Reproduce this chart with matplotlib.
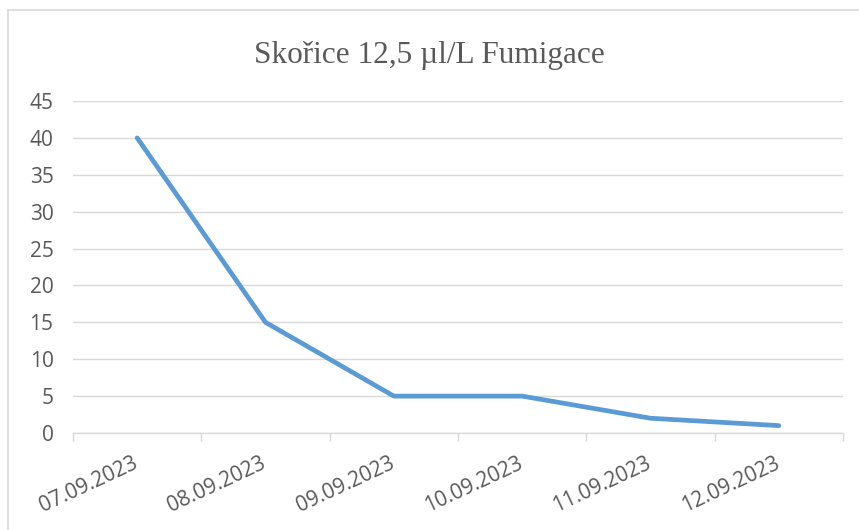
import matplotlib
matplotlib.use("Agg")
import matplotlib.pyplot as plt
from matplotlib.lines import Line2D
from matplotlib.transforms import ScaledTranslation

categories = ["07.09.2023", "08.09.2023", "09.09.2023", "10.09.2023", "11.09.2023", "12.09.2023"]
values = [40, 15, 5, 5, 2, 1]
yticks = [0, 5, 10, 15, 20, 25, 30, 35, 40, 45]
title = "Skořice 12,5 µl/L Fumigace"

W, H = 859, 530
fig = plt.figure(figsize=(W / 100, H / 100), dpi=100)
# chart frame: only top and left edges are visible in the crop
fig.add_artist(Line2D([8 / W, 8 / W], [0, 1 - 10 / H], transform=fig.transFigure,
                      color="#D9D9D9", linewidth=1.2))
fig.add_artist(Line2D([8 / W, 1], [1 - 10 / H, 1 - 10 / H], transform=fig.transFigure,
                      color="#D9D9D9", linewidth=1.2))
ax = fig.add_axes([73 / W, 97 / H, 770 / W, 332 / H])

x = list(range(len(categories)))
ax.plot(x, values, color="#5B9BD5", linewidth=3.4, solid_capstyle="round",
        solid_joinstyle="round", zorder=3)

ax.set_xlim(-0.5, len(categories) - 0.5)
ax.set_ylim(0, 45)
ax.set_yticks(yticks)
ax.grid(axis="y", color="#D9D9D9", linewidth=1)
ax.set_axisbelow(True)
for s in ["top", "right", "left"]:
    ax.spines[s].set_visible(False)
ax.spines["bottom"].set_color("#D9D9D9")
ax.spines["bottom"].set_linewidth(1)

ax.set_xticks([i - 0.5 for i in range(len(categories) + 1)])
ax.set_xticklabels([])
ax.tick_params(axis="x", which="major", length=6, color="#D9D9D9", width=1)
ax.tick_params(axis="y", length=0, pad=14, labelsize=15, labelcolor="#595959")
for lab in ax.get_yticklabels():
    lab.set_family("Open Sans")

off = ax.get_xaxis_transform() + ScaledTranslation(-5 / 100, -20 / 100, fig.dpi_scale_trans)
for xi, lab in zip(x, categories):
    ax.text(xi, 0, lab, transform=off, rotation=25, ha="right", va="top",
            rotation_mode="anchor", fontsize=15, color="#595959", family="Open Sans")

fig.text(0.5, 1 - 56 / H, title, ha="center", va="center", fontsize=22.5,
         family="Liberation Serif", color="#595959")

fig.savefig("out.png", dpi=100)
